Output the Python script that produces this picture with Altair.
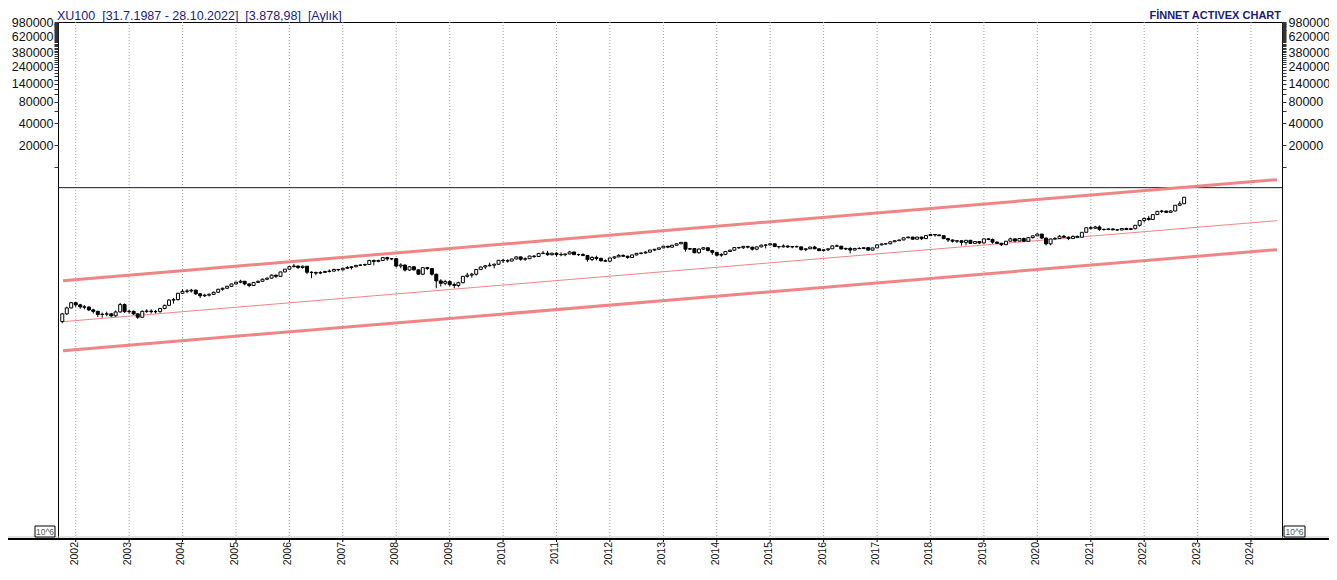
import altair as alt
import pandas as pd

FONT = "Liberation Sans"
NAVY = "#1b1b7e"
BAND_RED = "#f08585"

NB = "\u00a0\u00a0"
TITLE_LEFT = f"XU100{NB}[31.7.1987 - 28.10.2022]{NB}[3.878,98]{NB}[Aylık]"
TITLE_RIGHT = "FİNNET ACTIVEX CHART"
UNIT_BOX = "10^6"

# ---------------- monthly candles (index points, new units) ----------------
FIRST_MONTH = "2001-10-01"
FIRST_OPEN = 76

closes = [
    97, 117, 138,                                                     # 2001 Oct-Dec
    129, 121, 120, 110, 105, 95, 96, 97, 91, 103, 130, 104,           # 2002
    105, 97, 87, 105, 106, 104, 104, 115, 127, 150, 152, 186,         # 2003
    198, 200, 205, 183, 172, 175, 180, 192, 211, 218, 232, 250,       # 2004
    264, 272, 250, 238, 262, 272, 290, 300, 330, 318, 365, 398,       # 2005
    432, 440, 420, 438, 362, 358, 352, 360, 370, 375, 395, 391,       # 2006
    410, 420, 430, 450, 455, 462, 525, 510, 525, 575, 552, 555,       # 2007
    440, 455, 388, 430, 390, 340, 418, 407, 340, 275, 255, 269,       # 2008
    245, 238, 260, 318, 330, 340, 395, 427, 444, 452, 466, 528,       # 2009
    520, 515, 550, 588, 545, 555, 604, 595, 655, 660, 630, 660,       # 2010
    632, 630, 645, 686, 632, 633, 615, 540, 577, 560, 520, 513,       # 2011
    568, 588, 617, 600, 577, 625, 657, 665, 683, 730, 748, 782,       # 2012
    825, 800, 850, 890, 932, 750, 765, 670, 752, 785, 720, 678,       # 2013
    620, 636, 697, 726, 790, 785, 820, 800, 750, 807, 852, 857,       # 2014
    890, 815, 808, 829, 804, 817, 807, 740, 760, 802, 759, 717,       # 2015
    736, 760, 833, 825, 755, 768, 730, 768, 764, 786, 728, 781,       # 2016
    860, 885, 889, 947, 980, 1004, 1075, 1100, 1029, 1100, 1047, 1153,  # 2017
    1195, 1177, 1149, 1047, 1003, 965, 980, 929, 994, 902, 954, 913,    # 2018
    1040, 1020, 937, 902, 864, 965, 1040, 970, 1052, 963, 1080, 1144,   # 2019
    1210, 1065, 888, 1036, 1048, 1129, 1094, 1050, 1122, 1094, 1280, 1477,  # 2020
    1454, 1514, 1404, 1397, 1423, 1383, 1376, 1441, 1393, 1434, 1597, 1858,  # 2021
    1981, 1919, 2239, 2480, 2506, 2406, 2511, 3010, 3156, 3879,             # 2022 Jan-Oct
]

highs = [
    100, 122, 141,
    141, 133, 128, 124, 114, 107, 101, 104, 100, 108, 137, 135,
    111, 108, 99, 108, 112, 112, 110, 117, 130, 154, 160, 188,
    210, 212, 214, 210, 188, 183, 185, 196, 214, 222, 236, 252,
    268, 285, 275, 252, 265, 278, 296, 306, 337, 335, 368, 400,
    440, 470, 445, 445, 440, 372, 370, 372, 380, 395, 405, 402,
    418, 440, 436, 455, 465, 475, 535, 540, 540, 580, 590, 567,
    560, 480, 460, 440, 435, 395, 420, 430, 410, 345, 290, 285,
    280, 262, 268, 320, 355, 355, 398, 432, 455, 490, 475, 530,
    555, 545, 552, 600, 590, 578, 610, 620, 657, 710, 710, 670,
    680, 680, 650, 710, 690, 650, 660, 620, 600, 610, 575, 545,
    570, 600, 640, 635, 610, 628, 665, 670, 705, 735, 755, 785,
    830, 830, 860, 895, 935, 940, 780, 765, 770, 800, 790, 735,
    690, 660, 710, 740, 800, 810, 830, 825, 810, 815, 870, 870,
    910, 895, 830, 875, 845, 825, 840, 810, 765, 805, 835, 765,
    740, 765, 840, 870, 830, 785, 800, 780, 800, 800, 800, 785,
    870, 900, 910, 960, 995, 1010, 1080, 1115, 1110, 1105, 1110, 1155,
    1210, 1200, 1180, 1155, 1070, 1020, 1000, 985, 1000, 1000, 960, 960,
    1045, 1060, 1050, 960, 920, 970, 1080, 1045, 1060, 1080, 1090, 1150,
    1230, 1215, 1080, 1045, 1100, 1170, 1180, 1120, 1160, 1155, 1290, 1480,
    1550, 1570, 1590, 1445, 1450, 1455, 1420, 1450, 1480, 1470, 1605, 1862,
    2030, 2150, 2250, 2520, 2600, 2530, 2560, 3030, 3420, 3890,
]

lows = [
    72, 94, 115,
    121, 114, 112, 106, 98, 88, 86, 90, 88, 88, 101, 100,
    98, 94, 83, 86, 100, 98, 97, 101, 112, 126, 134, 148,
    182, 186, 190, 176, 160, 165, 168, 176, 190, 202, 212, 228,
    245, 255, 240, 225, 236, 258, 270, 282, 296, 300, 315, 362,
    390, 420, 400, 405, 340, 300, 330, 340, 352, 360, 372, 372,
    380, 400, 395, 425, 440, 440, 460, 450, 495, 525, 520, 530,
    420, 410, 370, 380, 385, 335, 330, 390, 325, 218, 230, 240,
    232, 218, 225, 255, 305, 305, 325, 390, 400, 435, 410, 460,
    485, 490, 515, 545, 520, 520, 555, 570, 595, 640, 610, 615,
    595, 600, 600, 640, 622, 605, 600, 505, 515, 525, 505, 500,
    510, 550, 585, 585, 555, 570, 615, 635, 650, 675, 705, 740,
    775, 775, 785, 840, 880, 695, 730, 660, 650, 730, 700, 625,
    600, 590, 620, 690, 720, 755, 755, 770, 720, 725, 795, 770,
    850, 800, 765, 790, 780, 772, 790, 716, 707, 755, 750, 705,
    695, 705, 755, 815, 745, 730, 655, 720, 750, 755, 715, 725,
    780, 845, 870, 875, 940, 980, 1000, 1060, 1020, 1025, 1000, 1040,
    1150, 1115, 1140, 1030, 940, 925, 910, 840, 850, 890, 900, 880,
    900, 1000, 890, 890, 830, 860, 965, 930, 960, 940, 960, 1050,
    1140, 1050, 842, 850, 1000, 1040, 1085, 1000, 1040, 1085, 1090, 1270,
    1400, 1435, 1340, 1350, 1370, 1365, 1350, 1370, 1385, 1380, 1400, 1530,
    1750, 1845, 1905, 2225, 2355, 2350, 2400, 2480, 2960, 3140,
]

# ---------------- channel lines (read at the plot edges) ----------------
band_dates = ["2001-10-06", "2024-06-27"]
upper_band = [277, 6765]
middle_band = [75.8, 1849]
lower_band = [30.3, 739]
black_level = [5250]

# ---------------- axes ----------------
x_domain_dates = ["2001-10-06", "2024-06-27"]
year_ticks = list(range(2002, 2025))
y_domain = [0.0809, 990000]
y_label_values = [980000, 620000, 380000, 240000, 140000, 80000, 40000, 20000]
y_tick_values = [10000] + [20000 * k for k in range(1, 50)]

# ---------------- layout ----------------
W, H = 1224, 516
PAD = {"left": 50, "top": 14, "right": 47, "bottom": 28}


def ms(s):
    return int(pd.Timestamp(s, tz="UTC").timestamp() * 1000)


months = pd.date_range(FIRST_MONTH, periods=len(closes), freq="MS")
opens = [FIRST_OPEN] + closes[:-1]
df = pd.DataFrame({
    "date": months.strftime("%Y-%m-%d"),
    "open": opens, "close": closes, "high": highs, "low": lows,
})

bands = pd.DataFrame({
    "band": ["upper"] * 2 + ["middle"] * 2 + ["lower"] * 2,
    "date": band_dates * 3,
    "value": upper_band + middle_band + lower_band,
})
years_df = pd.DataFrame({
    "date": [f"{y}-01-01" for y in year_ticks],
    "label": [str(y) for y in year_ticks],
})
level_df = pd.DataFrame({"level": black_level})
one = pd.DataFrame({"k": [0]})

x_scale = alt.Scale(type="utc", domain=[ms(x_domain_dates[0]), ms(x_domain_dates[1])])
y_scale = alt.Scale(type="log", domain=y_domain, nice=False)
X = alt.X("date:T", scale=x_scale, axis=None)

label_list = ",".join(str(v) for v in y_label_values)
label_expr = f"indexof([{label_list}], datum.value) >= 0 ? format(datum.value, 'd') : ''"


def y_axis(orient, pad):
    return alt.Axis(
        title=None, orient=orient, values=y_tick_values, labelExpr=label_expr,
        labelFont=FONT, labelFontSize=12.5, labelColor="#111111", labelPadding=pad,
        tickSize=4, tickColor="#333333", tickWidth=1, domain=False, grid=False,
        labelOverlap=False, labelFlush=False, labelBound=False,
    )


# year grid, ticks and labels
grid = alt.Chart(years_df).mark_rule(color="#a0a0a0", strokeDash=[1, 2], strokeWidth=1).encode(
    x=X, y=alt.value(0), y2=alt.value(H)
)
xticks = alt.Chart(years_df).mark_rule(color="#000000", strokeWidth=1).encode(
    x=X, y=alt.value(H), y2=alt.value(H + 4)
)
xlabels = alt.Chart(years_df).mark_text(
    font=FONT, fontSize=10.5, color="#111111", angle=270, align="right",
    baseline="middle", dy=-1
).encode(x=X, y=alt.value(H + 4), text="label:N")

wicks = alt.Chart(df).mark_rule(color="black", strokeWidth=1, clip=True).encode(
    x=X,
    y=alt.Y("low:Q", scale=y_scale, axis=y_axis("left", 1)),
    y2="high:Q",
)

bodies = alt.Chart(df).mark_bar(size=3, stroke="black", strokeWidth=1, clip=True).encode(
    x=X,
    y=alt.Y("open:Q", scale=y_scale, axis=None),
    y2="close:Q",
    fill=alt.condition("datum.close >= datum.open", alt.value("white"), alt.value("black")),
)

level = alt.Chart(level_df).mark_rule(color="#141450", strokeWidth=1).encode(
    y=alt.Y("level:Q", scale=y_scale, axis=y_axis("right", 2)),
)

thick_bands = alt.Chart(bands).transform_filter("datum.band != 'middle'").mark_line(
    color=BAND_RED, strokeWidth=3, clip=True
).encode(
    x=X,
    y=alt.Y("value:Q", scale=y_scale, axis=None),
    detail="band:N",
)

thin_band = alt.Chart(bands).transform_filter("datum.band == 'middle'").mark_line(
    color=BAND_RED, strokeWidth=1, clip=True
).encode(
    x=X,
    y=alt.Y("value:Q", scale=y_scale, axis=None),
)

gray_sep = alt.Chart(one).mark_rule(color="#c4c4c4", strokeWidth=1).encode(
    x=alt.value(-PAD["left"]), x2=alt.value(W + PAD["right"]), y=alt.value(H - 1)
)
black_sep = alt.Chart(one).mark_rule(color="#000000", strokeWidth=2).encode(
    x=alt.value(-PAD["left"]), x2=alt.value(W + PAD["right"]), y=alt.value(H + 1)
)

title_left = alt.Chart(one).mark_text(
    font=FONT, fontSize=12.5, color=NAVY, align="left", baseline="alphabetic"
).encode(x=alt.value(-1), y=alt.value(-2.5), text=alt.value(TITLE_LEFT))

title_right = alt.Chart(one).mark_text(
    font=FONT, fontSize=11, fontWeight="bold", color=NAVY,
    align="right", baseline="alphabetic"
).encode(x=alt.value(W - 1), y=alt.value(-3), text=alt.value(TITLE_RIGHT))

box_left = alt.Chart(one).mark_rect(fill="white", stroke="black", strokeWidth=1).encode(
    x=alt.value(-23), x2=alt.value(-3), y=alt.value(H - 12), y2=alt.value(H - 1)
)
box_right = alt.Chart(one).mark_rect(fill="white", stroke="black", strokeWidth=1).encode(
    x=alt.value(W + 2), x2=alt.value(W + 23), y=alt.value(H - 12), y2=alt.value(H - 1)
)
box_text_left = alt.Chart(one).mark_text(
    font=FONT, fontSize=8.5, color="#555555", align="center", baseline="middle"
).encode(x=alt.value(-13), y=alt.value(H - 6.5), text=alt.value(UNIT_BOX))
box_text_right = alt.Chart(one).mark_text(
    font=FONT, fontSize=8.5, color="#555555", align="center", baseline="middle"
).encode(x=alt.value(W + 12.5), y=alt.value(H - 6.5), text=alt.value(UNIT_BOX))

chart = alt.layer(
    grid, wicks, level, thick_bands, thin_band, bodies,
    gray_sep, black_sep, xticks, xlabels, title_left, title_right,
    box_left, box_right, box_text_left, box_text_right,
).resolve_scale(y="shared").resolve_axis(y="independent").properties(
    width=W, height=H, padding=PAD,
    autosize=alt.AutoSizeParams(type="none"),
    background="white",
).configure_view(stroke="black", strokeWidth=1)

chart.save("out.html", embed_options={"renderer": "svg", "actions": False})
